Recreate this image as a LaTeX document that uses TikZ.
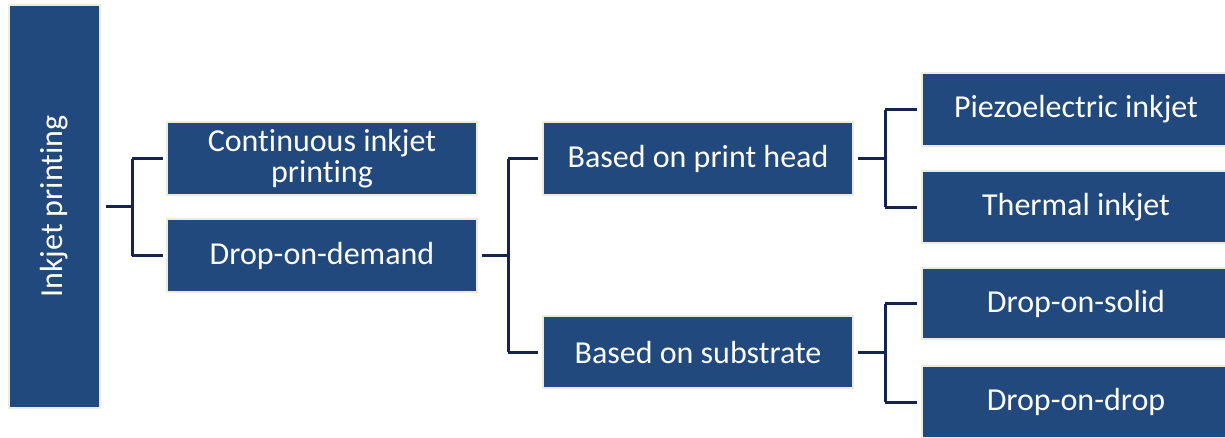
\documentclass[tikz,border=0pt]{standalone}
\usepackage{fontspec}
\setmainfont{Carlito}[Ligatures=NoCommon]
\definecolor{boxblue}{HTML}{21497D}
\definecolor{boxrim}{HTML}{EEEBDA}
\definecolor{linknavy}{HTML}{14244E}
\definecolor{labeltext}{HTML}{FDFCF4}
\begin{document}
\begin{tikzpicture}[x=1pt,y=-1pt,
  box/.style={rectangle, fill=boxblue, draw=boxrim, line width=1.6pt,
    inner sep=0pt, outer sep=0pt, text=labeltext, align=center,
    font=\fontsize{32}{31}\selectfont},
  link/.style={draw=linknavy, line width=3pt}]
\useasboundingbox (0,0) rectangle (1225,437);
\clip (0,0) rectangle (1225,437);

% level 0
\node[box, minimum width=91pt, minimum height=403pt] (root) at (54.5,206.5)
  {\rotatebox{90}{Inkjet printing}};

% level 1
\node[box, minimum width=310pt, minimum height=73pt] (cont) at (322,158.5)
  {Continuous inkjet\\printing};
\node[box, minimum width=310pt, minimum height=73pt] (dod) at (322,255.5)
  {Drop-on-demand};

% level 2
\node[box, minimum width=310pt, minimum height=73pt] (bph) at (698,158.5)
  {Based on print head};
\node[box, minimum width=310pt, minimum height=72pt] (bsub) at (698,352)
  {Based on substrate};

% level 3
\node[box, minimum width=308pt, minimum height=73pt] (piezo) at (1076,109.5)
  {Piezoelectric inkjet};
\node[box, minimum width=308pt, minimum height=72pt] (therm) at (1076,207)
  {Thermal inkjet};
\node[box, minimum width=308pt, minimum height=71pt] (solid) at (1076,303.5)
  {Drop-on-solid};
\node[box, minimum width=308pt, minimum height=72pt] (drop) at (1076,402)
  {Drop-on-drop};

% bracket connectors
\draw[link] ([xshift=6pt]root.east) -- ++(26pt,0) coordinate (j0);
\draw[link] (j0 |- cont.west) -- (j0 |- dod.west);
\draw[link] (j0 |- cont.west) -- ([xshift=-4pt]cont.west);
\draw[link] (j0 |- dod.west) -- ([xshift=-4pt]dod.west);

\draw[link] ([xshift=5pt]dod.east) -- ++(26pt,0) coordinate (j1);
\draw[link] (j1 |- bph.west) -- (j1 |- bsub.west);
\draw[link] (j1 |- bph.west) -- ([xshift=-5pt]bph.west);
\draw[link] (j1 |- bsub.west) -- ([xshift=-5pt]bsub.west);

\draw[link] ([xshift=5pt]bph.east) -- ++(27pt,0) coordinate (j2);
\draw[link] (j2 |- piezo.west) -- (j2 |- therm.west);
\draw[link] (j2 |- piezo.west) -- ([xshift=-5pt]piezo.west);
\draw[link] (j2 |- therm.west) -- ([xshift=-5pt]therm.west);

\draw[link] ([xshift=5pt]bsub.east) -- ++(27pt,0) coordinate (j3);
\draw[link] (j3 |- solid.west) -- (j3 |- drop.west);
\draw[link] (j3 |- solid.west) -- ([xshift=-5pt]solid.west);
\draw[link] (j3 |- drop.west) -- ([xshift=-5pt]drop.west);
\end{tikzpicture}
\end{document}
